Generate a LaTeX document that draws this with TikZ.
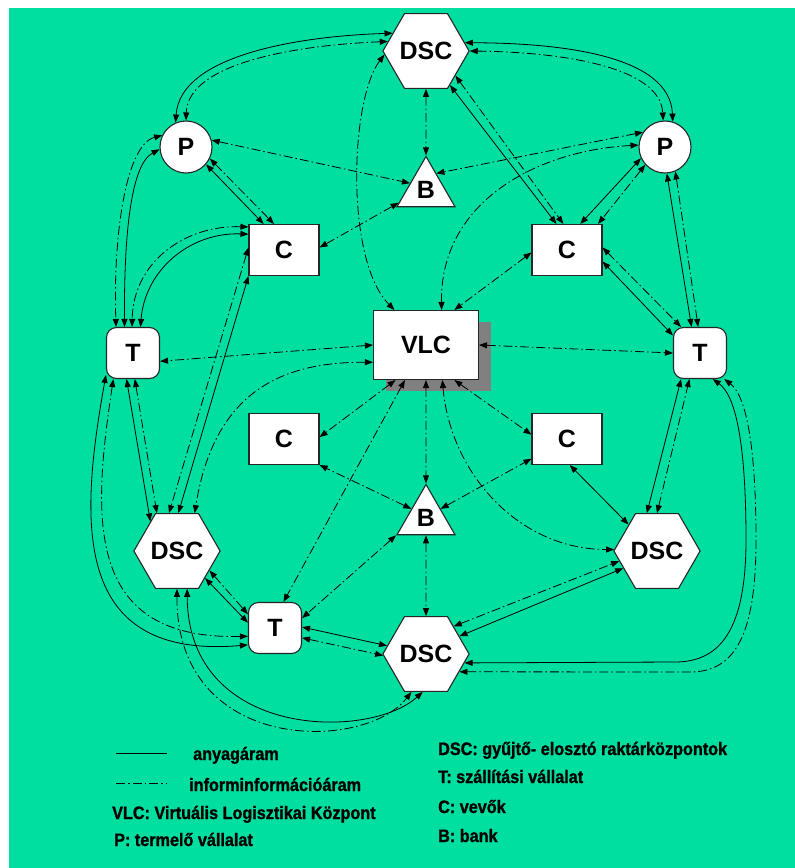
\documentclass[tikz,border=0pt]{standalone}
\usepackage{fontspec}
\setmainfont{Liberation Sans}
\newfontfamily\legfont{Liberation Sans}[FakeStretch=0.9,BoldFeatures={FakeBold=1.2}]
\usetikzlibrary{shapes.geometric,arrows.meta,shadows}
\definecolor{bggreen}{RGB}{0,222,160}

\begin{document}
\begin{tikzpicture}[x=1pt,y=-1pt,
    every node/.style={inner sep=0pt,font=\bfseries\fontsize{25}{30}\selectfont},
    nd/.style={draw=black!85,line width=1.1pt,fill=white},
    hexa/.style={nd,regular polygon,regular polygon sides=6,minimum size=78pt},
    tri/.style={nd,regular polygon,regular polygon sides=3,minimum size=67pt},
    pcirc/.style={nd,circle,minimum size=52pt},
    cbox/.style={nd,rectangle,minimum width=70pt,minimum height=51pt},
    tbox/.style={nd,rectangle,rounded corners=10pt,minimum width=53pt,minimum height=51pt},
    >={Triangle[length=8pt,width=6pt]},
    mat/.style={<->,line width=0.8pt},
    info/.style={mat,dash pattern=on 9pt off 3pt on 1.5pt off 3pt},
    leg/.style={anchor=base west,font=\legfont\bfseries\fontsize{18}{20}\selectfont}]

\fill[white] (0,0) rectangle (795,868);
\fill[bggreen] (9,8) rectangle (795,868);

\node[hexa] (dt) at (426,51) {DSC};
\node[tri] (bt) at (426,190) {B};
\node[pcirc] (pl) at (186,147) {P};
\node[pcirc] (pr) at (665,147) {P};
\node[cbox] (cl) at (284,250) {C};
\node[cbox] (cr) at (567,250) {C};
\node[cbox,minimum width=105pt,minimum height=69pt,
    drop shadow={shadow xshift=12pt,shadow yshift=-11pt,fill=gray,opacity=1}] (vlc) at (426,345) {VLC};
\node[tbox] (tl) at (133,353) {T};
\node[tbox] (tr) at (700,353) {T};
\node[cbox] (cml) at (284,439) {C};
\node[cbox] (cmr) at (567,439) {C};
\node[tri] (bb) at (426,518) {B};
\node[hexa] (dl) at (177,551) {DSC};
\node[hexa] (dr) at (657,551) {DSC};
\node[tbox] (tb) at (275,628) {T};
\node[hexa] (db) at (426,654) {DSC};

% upper half
\draw[mat] (dt.152) .. controls (300,36) and (180,55) .. (pl.113);
\draw[info] (dt.166) .. controls (300,45) and (188,62) .. (pl.90);
\draw[mat] (dt.12) .. controls (560,43) and (670,55) .. (pr.73);
\draw[info] (dt.east) .. controls (555,52) and (660,65) .. (pr.94);
\draw[info] (dt.south) -- (bt.north);
\draw[mat] (dt.-55) -- (cr.112);
\draw[info] (dt.-40) -- (cr.98);
\draw[info] (dt.185) .. controls (350,100) and (345,260) .. (vlc.132);
\draw[info] (pr.146) -- (bt.58);
\draw[info] (pr.176) .. controls (540,150) and (440,200) .. (vlc.66);
\draw[info] (pl.15) -- (bt.157);
\draw[info] (cl.4) -- (bt.205);
\draw[info] (cr.184) -- (vlc.51);
\draw[mat] (pl.-41) -- (cl.128);
\draw[info] (pl.-26) -- (cl.111);
\draw[mat] (pl.185) .. controls (130,165) and (124,240) .. (tl.108);
\draw[info] (pl.154) .. controls (125,145) and (113,240) .. (tl.123);
\draw[mat] (cl.156) .. controls (190,232) and (145,270) .. (tl.74);
\draw[info] (cl.147) .. controls (185,225) and (133,262) .. (tl.92);
\draw[mat] (cl.south west) -- (dl.88);
\draw[info] (cl.176) -- (dl.102);
\draw[mat] (pr.205) -- (cr.63);
\draw[info] (pr.222) -- (cr.40);
\draw[mat] (pr.-86) -- (tr.108);
\draw[info] (pr.-67) -- (tr.94);
\draw[mat] (cr.-18) -- (tr.147);
\draw[info] (cr.4) -- (tr.126);

% around the VLC
\draw[info] (vlc.west) -- (tl.-17);
\draw[info] (vlc.east) -- (tr.west);
\draw[info] (vlc.198) .. controls (290,362) and (215,385) .. (dl.65);
\draw[info] (vlc.south) -- (bb.north);
\draw[info] (vlc.229) -- (cml.3);
\draw[info] (vlc.239) -- (tb.72);
\draw[info] (vlc.-51) -- (cmr.173);
\draw[info] (vlc.-65) to[out=-85,in=180] (dr.178);

% lower half
\draw[mat] (tl.256) -- (dl.132);
\draw[info] (tl.274) -- (dl.118);
\draw[mat] (tl.219) .. controls (80,520) and (70,660) .. (tb.212);
\draw[info] (tl.233) .. controls (92,520) and (85,640) .. (tb.197);
\draw[mat] (dl.-44) -- (tb.169);
\draw[info] (dl.-31) -- (tb.153);
\draw[mat] (dl.-75) .. controls (188,740) and (370,740) .. (db.-95);
\draw[info] (dl.-90) .. controls (176,755) and (365,752) .. (db.-111);
\draw[mat] (tb.2) -- (db.168);
\draw[info] (tb.-20) -- (db.182);
\draw[info] (bb.south) -- (db.north);
\draw[info] (bb.148) -- (cml.south east);
\draw[info] (bb.32) -- (cmr.209);
\draw[info] (bb.210) -- (tb.20);
\draw[mat] (db.28) -- (dr.207);
\draw[info] (db.45) -- (dr.195);
\draw[mat] (db.-13) -- (675,662) .. controls (720,662) and (746,630) .. (746,540)
    .. controls (746,440) and (735,395) .. (tr.-64);
\draw[info] (db.-28) -- (690,672) .. controls (735,672) and (756,635) .. (756,540)
    .. controls (756,440) and (745,395) .. (tr.-47);
\draw[mat] (dr.105) -- (tr.234);
\draw[info] (dr.90) -- (tr.248);
\draw[mat] (cmr.-84) -- (dr.137);

% legend
\draw[mat,-] (116,753) -- (167,753);
\draw[info,-] (116,783) -- (167,783);
\node[leg] (lmat) at (193,760) {anyagáram};
\node[leg] (linfo) at (189,791) {informinformációáram};
\node[leg] (lvlc) at (112,819) {VLC: Virtuális Logisztikai Központ};
\node[leg] (lp) at (114,846) {P: termelő vállalat};
\node[leg] (ldsc) at (438,755) {DSC: gyűjtő- elosztó raktárközpontok};
\node[leg] (lt) at (438,783) {T: szállítási vállalat};
\node[leg] (lc) at (438,813) {C: vevők};
\node[leg] (lb) at (438,842) {B: bank};
\end{tikzpicture}
\end{document}
